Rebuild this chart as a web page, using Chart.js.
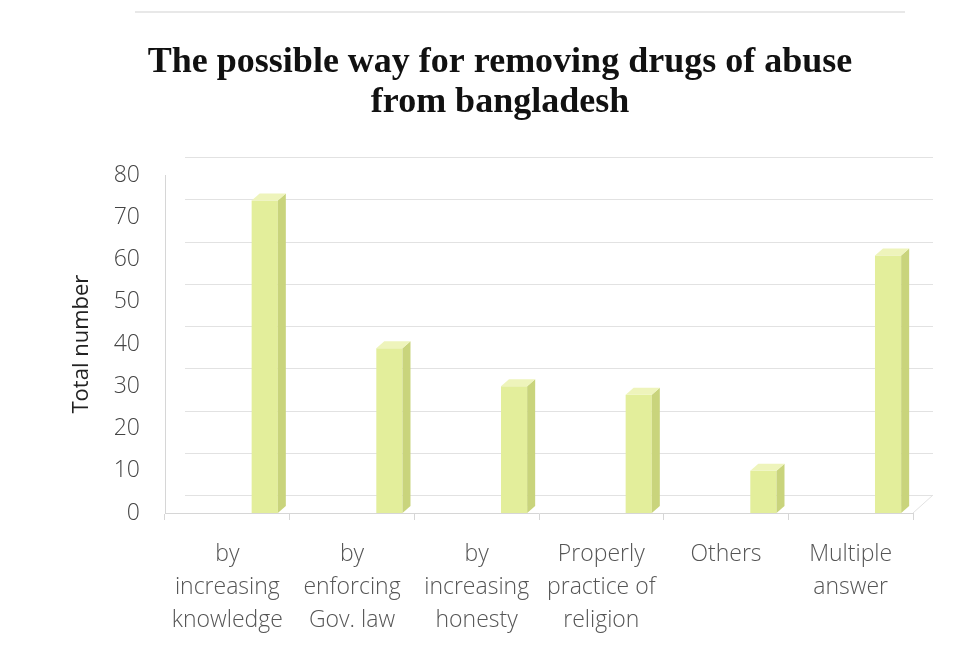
<!DOCTYPE html>
<html>
<head>
<meta charset="utf-8">
<script src="https://cdn.jsdelivr.net/npm/chart.js@4/dist/chart.umd.min.js"></script>
<style>
  html, body { margin: 0; padding: 0; background: #fff; }
  #wrap { width: 977px; height: 655px; position: relative; }
</style>
</head>
<body>
<div id="wrap"><canvas id="chart" width="977" height="655"></canvas></div>
<script>
"use strict";

// ── Data ─────────────────────────────────────────────────────────────────────
const TITLE_LINES = ["The possible way for removing drugs of abuse", "from bangladesh"];
const CATEGORIES = [
  ["by", "increasing", "knowledge"],
  ["by", "enforcing", "Gov. law"],
  ["by", "increasing", "honesty"],
  ["Properly", "practice of", "religion"],
  ["Others"],
  ["Multiple", "answer"],
];
const TOTALS = [74, 39, 30, 28, 10, 61];
const Y_TICKS = { min: 0, max: 80, step: 10 };
const Y_TITLE = "Total number";

// two empty series keep a slot free on the left of each column, so the
// columns sit towards the back-right of their category like a 3-D plot
const SPACER = CATEGORIES.map(() => null);

// ── Colours ──────────────────────────────────────────────────────────────────
const BAR_FRONT = "#e3ee9b";
const BAR_SIDE  = "#c9d47c";
const BAR_TOP   = "#eef4bb";
const WALL_LINE = "#e2e2e2";
const AXIS_LINE = "#d6d6d6";
const DEPTH_X = 20, DEPTH_Y = 18;   // back wall offset
const BAR_DX = 8, BAR_DY = 7;       // column depth

// Frame edge along the top of the page
const frameEdge = {
  id: "frameEdge",
  beforeDraw(chart) {
    const { ctx } = chart;
    ctx.save();
    ctx.strokeStyle = "#e8e8e8";
    ctx.lineWidth = 2;
    ctx.beginPath();
    ctx.moveTo(135, 12);
    ctx.lineTo(905, 12);
    ctx.stroke();
    ctx.restore();
  },
};

// Back-wall gridlines and floor, drawn under the columns
const wallPlugin = {
  id: "wall",
  beforeDatasetsDraw(chart) {
    const { ctx, chartArea: a, scales: { y } } = chart;
    ctx.save();
    ctx.strokeStyle = WALL_LINE;
    ctx.lineWidth = 1;
    for (let v = Y_TICKS.min; v <= Y_TICKS.max; v += Y_TICKS.step) {
      const py = Math.round(y.getPixelForValue(v) - DEPTH_Y) + 0.5;
      ctx.beginPath();
      ctx.moveTo(a.left + DEPTH_X, py);
      ctx.lineTo(a.right + DEPTH_X, py);
      ctx.stroke();
    }
    // right edge of the floor
    ctx.beginPath();
    ctx.moveTo(a.right, a.bottom);
    ctx.lineTo(a.right + DEPTH_X, a.bottom - DEPTH_Y);
    ctx.stroke();
    ctx.restore();
  },
};

// Side and top faces of each column
const depthPlugin = {
  id: "depth",
  afterDatasetsDraw(chart) {
    const { ctx } = chart;
    const meta = chart.getDatasetMeta(2);
    ctx.save();
    meta.data.forEach(bar => {
      const { x, y, base, width } = bar.getProps(["x", "y", "base", "width"], true);
      const l = x - width / 2, r = x + width / 2;
      ctx.fillStyle = BAR_SIDE;
      ctx.beginPath();
      ctx.moveTo(r, y);
      ctx.lineTo(r + BAR_DX, y - BAR_DY);
      ctx.lineTo(r + BAR_DX, base - BAR_DY);
      ctx.lineTo(r, base);
      ctx.closePath();
      ctx.fill();
      ctx.fillStyle = BAR_TOP;
      ctx.beginPath();
      ctx.moveTo(l, y);
      ctx.lineTo(l + BAR_DX, y - BAR_DY);
      ctx.lineTo(r + BAR_DX, y - BAR_DY);
      ctx.lineTo(r, y);
      ctx.closePath();
      ctx.fill();
    });
    ctx.restore();
  },
};

const LABEL_FONT = { family: "'Open Sans', sans-serif", size: 23, weight: "300" };

new Chart(document.getElementById("chart"), {
  type: "bar",
  data: {
    labels: CATEGORIES,
    datasets: [
      { data: SPACER, backgroundColor: "transparent" },
      { data: SPACER, backgroundColor: "transparent" },
      { label: Y_TITLE, data: TOTALS, backgroundColor: BAR_FRONT, borderWidth: 0 },
    ],
  },
  options: {
    responsive: false,
    animation: false,
    categoryPercentage: 0.9,
    barPercentage: 0.7,
    // left padding balances the right one so the title centres on the page
    layout: { padding: { top: 43, left: 87, right: 64, bottom: 0 } },
    plugins: {
      legend: { display: false },
      tooltip: { enabled: false },
      title: {
        display: true,
        text: TITLE_LINES,
        color: "#111",
        font: { family: "'Liberation Serif', 'Times New Roman', serif", size: 36, weight: "bold", lineHeight: 1.1 },
        padding: { top: 0, bottom: 53 },
      },
    },
    scales: {
      x: {
        afterFit: s => { s.height = 142; },
        grid: { drawOnChartArea: false, color: AXIS_LINE, tickLength: 7 },
        border: { color: AXIS_LINE },
        ticks: { color: "#555", font: { ...LABEL_FONT, lineHeight: 1.44 }, padding: 18, maxRotation: 0, autoSkip: false },
      },
      y: {
        min: Y_TICKS.min,
        max: Y_TICKS.max,
        afterFit: s => { s.width = 78; },
        grid: { display: false, drawTicks: false },
        border: { color: AXIS_LINE },
        ticks: { stepSize: Y_TICKS.step, color: "#444", font: LABEL_FONT, padding: 25 },
        title: { display: true, text: Y_TITLE, color: "#222", font: { family: "'Open Sans', sans-serif", size: 22 }, padding: { top: -18, bottom: 0 } },
      },
    },
  },
  plugins: [frameEdge, wallPlugin, depthPlugin],
});
</script>
</body>
</html>
